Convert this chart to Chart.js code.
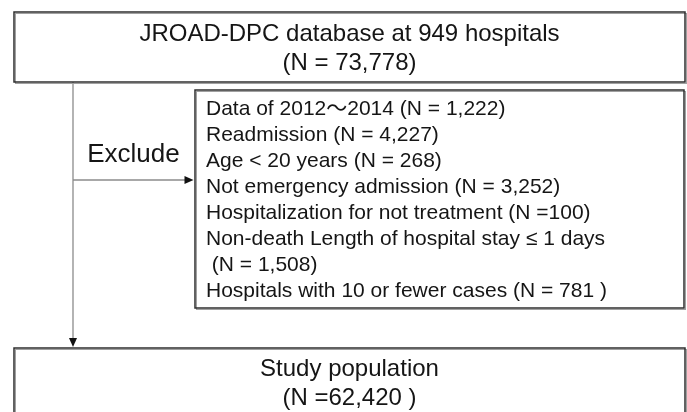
<!DOCTYPE html>
<html>
<head>
<meta charset="utf-8">
<script src="https://cdn.jsdelivr.net/npm/chart.js@4.4.1/dist/chart.umd.min.js"></script>
<style>
  html, body { margin: 0; padding: 0; background: #fff; }
  #wrap { width: 687px; height: 412px; }
</style>
</head>
<body>
<div id="wrap"><canvas id="myChart" width="687" height="412"></canvas></div>
<script>
// flow chart text
var sourceLines = ["JROAD-DPC database at 949 hospitals", "(N = 73,778)"];
var excludeLabel = "Exclude";
var exclusionLines = [
  "Data of 2012\uFF5E2014 (N = 1,222)",
  "Readmission (N = 4,227)",
  "Age < 20 years (N = 268)",
  "Not emergency admission (N = 3,252)",
  "Hospitalization for not treatment (N =100)",
  "Non-death Length of hospital stay \u2264 1 days",
  " (N = 1,508)",
  "Hospitals with 10 or fewer cases (N = 781 )"
];
var studyLines = ["Study population", "(N =62,420 )"];

// layout in chart units (x: 0..687, y: 0..412 top-down), text y = baseline
var layout = {
  sourceBox: { x1: 14, y1: 12, x2: 685, y2: 82, lineY: [41, 70] },
  excludeBox: { x1: 195, y1: 90, x2: 684, y2: 308, textX: 206, firstY: 115, step: 26 },
  studyBox: { x1: 14, y1: 348, x2: 685, y2: 430, lineY: [376, 405] },
  trunkX: 73,
  branchY: 180,
  excludeText: { x: 133.5, y: 162 }
};

var FONT = "'Liberation Sans', Arial, 'Noto Sans CJK JP', sans-serif";

function box(ctx, sx, sy, b) {
  var x1 = sx.getPixelForValue(b.x1), x2 = sx.getPixelForValue(b.x2);
  var y1 = sy.getPixelForValue(b.y1), y2 = sy.getPixelForValue(b.y2);
  ctx.save();
  ctx.strokeStyle = "#a0a0a0";
  ctx.lineWidth = 1;
  ctx.strokeRect(x1 + 1.5, y1 + 1.5, x2 - x1, y2 - y1);
  ctx.strokeStyle = "#2e2e2e";
  ctx.lineWidth = 1.5;
  ctx.strokeRect(x1, y1, x2 - x1, y2 - y1);
  ctx.restore();
}

function arrowHead(ctx, x, y, dir) {
  ctx.beginPath();
  if (dir == "down") {
    ctx.moveTo(x, y);
    ctx.lineTo(x - 4, y - 9);
    ctx.lineTo(x + 4, y - 9);
  } else {
    ctx.moveTo(x, y);
    ctx.lineTo(x - 9, y - 4);
    ctx.lineTo(x - 9, y + 4);
  }
  ctx.closePath();
  ctx.fill();
}

var flowPlugin = {
  id: "flow",
  afterDraw: function(chart) {
    var ctx = chart.ctx;
    var sx = chart.scales.x, sy = chart.scales.y;
    var L = layout;

    // connectors
    var tx = sx.getPixelForValue(L.trunkX);
    var by = sy.getPixelForValue(L.branchY);
    var ex = sx.getPixelForValue(L.excludeBox.x1);
    var sy1 = sy.getPixelForValue(L.studyBox.y1);
    ctx.save();
    ctx.strokeStyle = "#8c8c8c";
    ctx.lineWidth = 1.3;
    ctx.beginPath();
    ctx.moveTo(tx, sy.getPixelForValue(L.sourceBox.y2));
    ctx.lineTo(tx, sy1 - 6);
    ctx.moveTo(tx, by);
    ctx.lineTo(ex - 6, by);
    ctx.stroke();
    ctx.fillStyle = "#111";
    arrowHead(ctx, tx, sy1 - 1, "down");
    arrowHead(ctx, ex - 1.5, by, "right");
    ctx.restore();

    box(ctx, sx, sy, L.sourceBox);
    box(ctx, sx, sy, L.excludeBox);
    box(ctx, sx, sy, L.studyBox);

    ctx.save();
    ctx.fillStyle = "#151515";
    ctx.textBaseline = "alphabetic";

    ctx.font = "24px " + FONT;
    ctx.textAlign = "center";
    var cx = sx.getPixelForValue((L.sourceBox.x1 + L.sourceBox.x2) / 2);
    sourceLines.forEach(function(t, i) {
      ctx.fillText(t, cx, sy.getPixelForValue(L.sourceBox.lineY[i]));
    });
    studyLines.forEach(function(t, i) {
      ctx.fillText(t, cx, sy.getPixelForValue(L.studyBox.lineY[i]));
    });

    ctx.font = "26px " + FONT;
    ctx.fillText(excludeLabel, sx.getPixelForValue(L.excludeText.x), sy.getPixelForValue(L.excludeText.y));

    ctx.font = "21px " + FONT;
    ctx.textAlign = "left";
    var eb = L.excludeBox;
    exclusionLines.forEach(function(t, i) {
      ctx.fillText(t, sx.getPixelForValue(eb.textX), sy.getPixelForValue(eb.firstY + i * eb.step));
    });
    ctx.restore();
  }
};

function init() {
  var ctx = document.getElementById("myChart").getContext("2d");
  new Chart(ctx, {
    type: "scatter",
    data: { datasets: [] },
    options: {
      responsive: false,
      animation: false,
      layout: { padding: 0 },
      plugins: { legend: { display: false }, tooltip: { enabled: false } },
      scales: {
        x: { type: "linear", min: 0, max: 687, display: false },
        y: { type: "linear", min: 0, max: 412, reverse: true, display: false }
      }
    },
    plugins: [flowPlugin]
  });
}

init();
</script>
</body>
</html>
